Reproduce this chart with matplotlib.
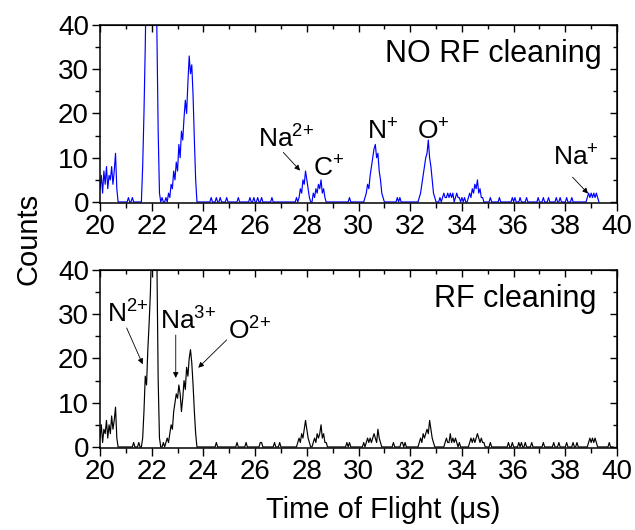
import numpy as np
import matplotlib
matplotlib.use("Agg")
import matplotlib.pyplot as plt
from matplotlib.ticker import MultipleLocator

plt.rcParams['font.family'] = ['Liberation Sans', 'DejaVu Sans']
plt.rcParams['mathtext.fontset'] = 'custom'
plt.rcParams['mathtext.rm'] = 'Liberation Sans'
plt.rcParams['mathtext.it'] = 'Liberation Sans'

# time-of-flight bins (us), 0.05 us wide
T0 = 20.0
DT = 0.05

# counts per bin, one row per microsecond (20.00 .. 20.95, 21.00 .. 21.95, ...)
counts_no_rf = [
    3, 6, 2, 7, 4, 8, 3, 6, 5, 8, 4, 7, 11, 3, 0, 0, 0, 0, 0, 0,
    0, 0, 1, 0, 0, 1, 0, 0, 0, 0, 0, 0, 0, 8, 20, 35, 55, 85, 110, 125,
    130, 120, 95, 62, 38, 16, 2, 0, 1, 0, 0, 1, 0, 2, 1, 4, 3, 7, 5, 9,
    7, 13, 10, 16, 14, 19, 23, 20, 27, 33, 29, 31, 24, 14, 5, 0, 0, 0, 0, 0,
    0, 0, 0, 0, 0, 0, 1, 0, 0, 0, 1, 0, 0, 1, 0, 0, 0, 0, 1, 0,
    0, 0, 0, 0, 0, 0, 0, 1, 0, 0, 0, 0, 0, 0, 0, 0, 1, 0, 0, 1,
    0, 0, 1, 0, 0, 1, 0, 0, 0, 0, 0, 0, 0, 1, 0, 0, 0, 0, 0, 0,
    0, 0, 0, 0, 0, 0, 0, 0, 0, 0, 0, 0, 1, 0, 1, 3, 2, 5, 4, 7,
    5, 3, 1, 0, 0, 2, 1, 3, 2, 4, 3, 5, 2, 3, 1, 0, 0, 0, 0, 0,
    0, 0, 0, 0, 0, 0, 0, 0, 0, 0, 0, 0, 0, 1, 0, 0, 0, 0, 0, 0,
    0, 0, 0, 0, 0, 1, 2, 4, 3, 6, 8, 10, 12, 13, 10, 11, 7, 5, 2, 1,
    0, 0, 0, 0, 0, 0, 0, 0, 0, 0, 1, 0, 1, 0, 0, 0, 0, 0, 0, 0,
    0, 0, 0, 0, 0, 0, 0, 1, 2, 4, 6, 8, 10, 11, 14, 10, 8, 5, 2, 1,
    0, 0, 0, 1, 0, 1, 2, 1, 1, 2, 1, 2, 1, 2, 0, 1, 2, 1, 1, 0,
    1, 0, 1, 0, 0, 1, 2, 1, 3, 2, 4, 3, 5, 2, 3, 1, 1, 0, 0, 0,
    0, 0, 1, 0, 0, 0, 0, 0, 0, 1, 0, 0, 0, 0, 0, 0, 0, 0, 0, 1,
    0, 1, 0, 0, 0, 1, 0, 0, 0, 0, 1, 0, 0, 0, 0, 0, 0, 0, 0, 1,
    0, 0, 0, 1, 0, 0, 0, 1, 0, 0, 0, 0, 0, 1, 0, 0, 1, 0, 0, 0,
    0, 1, 0, 0, 0, 1, 0, 0, 0, 0, 0, 0, 0, 0, 0, 0, 0, 1, 2, 1,
    2, 1, 2, 1, 2, 1, 0,
]

counts_rf = [
    2, 5, 1, 4, 3, 6, 2, 5, 3, 7, 4, 6, 9, 2, 0, 0, 0, 0, 0, 0,
    0, 0, 0, 0, 0, 0, 1, 0, 0, 0, 1, 0, 0, 2, 8, 16, 14, 22, 28, 35,
    48, 80, 95, 70, 42, 15, 2, 0, 0, 1, 0, 1, 2, 1, 3, 5, 4, 8, 10, 12,
    11, 14, 12, 8, 11, 15, 13, 18, 16, 20, 22, 19, 14, 8, 3, 0, 0, 0, 0, 0,
    0, 0, 0, 0, 0, 0, 0, 0, 0, 0, 1, 0, 0, 0, 0, 0, 0, 0, 0, 0,
    0, 0, 0, 0, 0, 0, 1, 0, 0, 0, 0, 0, 0, 1, 0, 0, 0, 0, 0, 0,
    0, 0, 0, 0, 1, 1, 0, 0, 0, 0, 0, 0, 0, 0, 0, 1, 0, 0, 0, 1,
    0, 0, 0, 0, 0, 0, 0, 0, 0, 0, 0, 0, 0, 1, 2, 1, 3, 2, 4, 6,
    4, 2, 1, 0, 0, 1, 2, 1, 3, 2, 3, 5, 2, 3, 1, 1, 0, 0, 0, 0,
    0, 0, 0, 0, 0, 0, 0, 0, 0, 0, 0, 1, 0, 1, 0, 0, 0, 0, 0, 0,
    0, 0, 0, 0, 1, 0, 1, 2, 1, 2, 1, 2, 3, 2, 1, 4, 2, 1, 0, 0,
    0, 0, 0, 0, 0, 0, 0, 1, 0, 0, 0, 0, 0, 1, 1, 0, 1, 0, 0, 0,
    0, 0, 0, 0, 0, 0, 0, 1, 2, 1, 3, 2, 3, 4, 3, 6, 4, 2, 1, 0,
    0, 0, 0, 0, 0, 0, 0, 1, 2, 1, 1, 3, 1, 2, 1, 2, 1, 0, 1, 0,
    0, 0, 0, 0, 0, 0, 1, 2, 1, 2, 1, 2, 3, 2, 1, 2, 1, 1, 0, 0,
    0, 0, 1, 0, 0, 0, 0, 0, 0, 0, 0, 0, 0, 0, 0, 0, 1, 0, 0, 1,
    0, 0, 0, 0, 1, 0, 1, 0, 0, 1, 0, 0, 0, 0, 1, 0, 0, 0, 0, 0,
    0, 0, 0, 1, 0, 0, 0, 0, 0, 0, 0, 1, 0, 0, 0, 1, 0, 0, 0, 0,
    0, 1, 0, 0, 0, 0, 1, 0, 0, 1, 0, 0, 0, 0, 0, 0, 0, 0, 1, 2,
    1, 2, 1, 2, 1, 0, 0, 0, 0, 0, 0, 0, 0, 0, 1, 0, 0, 0,
]

x_ticks = list(range(20, 41, 2))
y_ticks = [0, 10, 20, 30, 40]

TICK_FS = 20
LABEL_FS = 21
PEAK_FS = 19


def tof_axis(n):
    return T0 + DT * np.arange(n)


def ion(sym, charge):
    # element symbol with a raised charge state
    return sym + r"$^{" + charge.replace("+", "{+}") + "}$"


def style_axes(ax):
    ax.set_xlim(20, 40)
    ax.set_ylim(-0.3, 40)
    ax.set_xticks(x_ticks)
    ax.set_yticks(y_ticks)
    ax.xaxis.set_minor_locator(MultipleLocator(1))
    ax.yaxis.set_minor_locator(MultipleLocator(5))
    ax.tick_params(which='both', direction='out', labelsize=TICK_FS,
                   width=1.0, top=False, right=False, pad=2)
    ax.tick_params(which='major', length=6)
    ax.tick_params(which='minor', length=3.5)
    for s in ax.spines.values():
        s.set_linewidth(1.1)
    # mirrored ticks on top and right, pointing inwards
    top = ax.secondary_xaxis('top')
    top.set_xticks(x_ticks)
    top.xaxis.set_minor_locator(MultipleLocator(1))
    top.tick_params(which='both', direction='in', labeltop=False, width=1.0)
    top.tick_params(which='major', length=5)
    top.tick_params(which='minor', length=3)
    right = ax.secondary_yaxis('right')
    right.set_yticks(y_ticks)
    right.yaxis.set_minor_locator(MultipleLocator(5))
    right.tick_params(which='both', direction='in', labelright=False, width=1.0)
    right.tick_params(which='major', length=5)
    right.tick_params(which='minor', length=3)


fig = plt.figure(figsize=(6.35, 5.3), dpi=100)
ax1 = fig.add_axes([0.1575, 0.6164, 0.8142, 0.3364])
ax2 = fig.add_axes([0.1575, 0.1542, 0.8142, 0.3364])

c1 = np.array(counts_no_rf)
c2 = np.array(counts_rf)
ax1.plot(tof_axis(len(c1)), c1, color='#0000ff', lw=0.85)
ax2.plot(tof_axis(len(c2)), c2, color='black', lw=0.85)

style_axes(ax1)
style_axes(ax2)

ax1.text(0.971, 0.794, "NO RF cleaning", transform=ax1.transAxes,
         fontsize=22, ha='right', va='baseline')
ax2.text(0.961, 0.792, "RF cleaning", transform=ax2.transAxes,
         fontsize=22, ha='right', va='baseline')

arrow = dict(arrowstyle='-|>', color='black', lw=0.6,
             mutation_scale=8, shrinkA=0, shrinkB=0)

# top panel peak names
ax1.text(26.1, 12.4, ion("Na", "2+"), fontsize=PEAK_FS, va='baseline')
ax1.annotate("", xy=(27.74, 7.1), xytext=(27.09, 11.2), arrowprops=arrow)
ax1.text(28.24, 5.7, ion("C", "+"), fontsize=PEAK_FS, va='baseline')
ax1.text(30.33, 14.2, ion("N", "+"), fontsize=PEAK_FS, va='baseline')
ax1.text(32.26, 14.2, ion("O", "+"), fontsize=PEAK_FS, va='baseline')
ax1.text(37.52, 8.2, ion("Na", "+"), fontsize=PEAK_FS, va='baseline')
ax1.annotate("", xy=(38.88, 1.9), xytext=(38.28, 5.6), arrowprops=arrow)

# bottom panel peak names
ax2.text(20.26, 28.0, ion("N", "2+"), fontsize=PEAK_FS, va='baseline')
ax2.annotate("", xy=(21.65, 18.7), xytext=(21.03, 26.9), arrowprops=arrow)
ax2.text(22.32, 26.5, ion("Na", "3+"), fontsize=PEAK_FS, va='baseline')
ax2.annotate("", xy=(22.93, 15.6), xytext=(22.93, 25.3), arrowprops=arrow)
ax2.text(24.95, 24.3, ion("O", "2+"), fontsize=PEAK_FS, va='baseline')
ax2.annotate("", xy=(23.8, 17.9), xytext=(24.9, 24.2), arrowprops=arrow)

fig.text(0.045, 0.549, "Counts", rotation=90, fontsize=LABEL_FS,
         ha='center', va='center')
fig.text(0.603, 0.038, "Time of Flight (μs)", fontsize=LABEL_FS,
         ha='center', va='center')

fig.savefig("out.png", dpi=100)
